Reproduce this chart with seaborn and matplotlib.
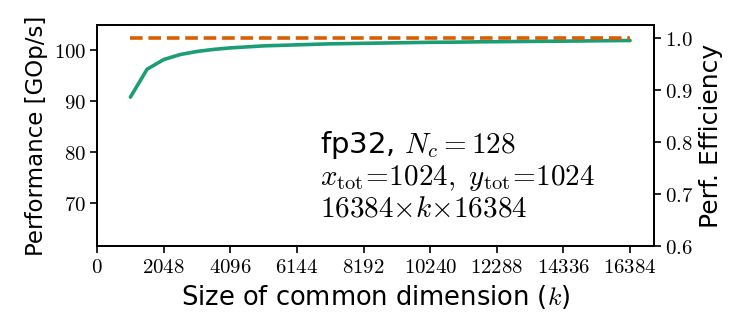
import matplotlib
matplotlib.use("Agg")
import matplotlib.pyplot as plt
import seaborn as sns
import pandas as pd
from matplotlib.ticker import FixedLocator, FixedFormatter

# Data
k_sizes = [1024, 1536, 2048, 2560, 3072, 3584, 4096, 4608, 5120, 5632, 6144,
           6656, 7168, 7680, 8192, 8704, 9216, 9728, 10240, 10752, 11264,
           11776, 12288, 12800, 13312, 13824, 14336, 14848, 15360, 15872, 16384]
performance = [90.8, 96.3, 98.2, 99.2, 99.8, 100.2, 100.5, 100.7, 100.9, 101.0, 101.1,
               101.2, 101.3, 101.35, 101.4, 101.45, 101.5, 101.55, 101.6, 101.62, 101.65,
               101.7, 101.72, 101.75, 101.78, 101.8, 101.83, 101.86, 101.9, 101.93, 101.95]
peak_perf = 102.4
x_ticks = [0, 2048, 4096, 6144, 8192, 10240, 12288, 14336, 16384]
y_ticks = [70, 80, 90, 100]
eff_ticks = [0.6, 0.7, 0.8, 0.9, 1.0]

sns.set_style("ticks")
plt.rcParams['font.family'] = ['DejaVu Sans']
plt.rcParams['mathtext.fontset'] = 'cm'
plt.rcParams['text.color'] = 'black'
plt.rcParams['axes.labelcolor'] = 'black'

df = pd.DataFrame({"k": k_sizes, "perf": performance})
df_peak = pd.DataFrame({"k": [k_sizes[0], k_sizes[-1]], "perf": [peak_perf, peak_perf]})

fig = plt.figure(figsize=(7.47, 3.34), dpi=100)
ax = fig.add_axes([0.130, 0.263, 0.7455, 0.662])

sns.lineplot(data=df, x="k", y="perf", ax=ax, color="#1b9e77", linewidth=2.6)
sns.lineplot(data=df_peak, x="k", y="perf", ax=ax, color="#d95f02", linewidth=2.6,
             linestyle=(0, (3.5, 1.6)))

ylo, yhi = 0.6 * peak_perf, 105.0
ax.set_xlim(0, 17120)
ax.set_ylim(ylo, yhi)

ax.xaxis.set_major_locator(FixedLocator(x_ticks))
ax.xaxis.set_major_formatter(FixedFormatter([f"${v}$" for v in x_ticks]))
ax.yaxis.set_major_locator(FixedLocator(y_ticks))
ax.yaxis.set_major_formatter(FixedFormatter([f"${v}$" for v in y_ticks]))
ax.tick_params(axis='both', labelsize=15, length=5, width=1.2, colors='black', pad=3)

ax.set_xlabel("Size of common dimension ($k$)", fontsize=18.5, labelpad=4)
ax.set_ylabel("Performance [GOp/s]", fontsize=16.5, labelpad=4)

for s in ax.spines.values():
    s.set_visible(True)
    s.set_linewidth(1.3)
    s.set_color('black')

ax2 = ax.twinx()
ax2.set_ylim(ylo / peak_perf, yhi / peak_perf)
ax2.yaxis.set_major_locator(FixedLocator(eff_ticks))
ax2.yaxis.set_major_formatter(FixedFormatter([f"${v:.1f}$" for v in eff_ticks]))
ax2.tick_params(axis='y', labelsize=15, length=5, width=1.2, colors='black', pad=3)
ax2.set_ylabel("Perf. Efficiency", fontsize=18, labelpad=4)
for s in ax2.spines.values():
    s.set_linewidth(1.3)
    s.set_color('black')

ax.text(0.40, 0.53,
        "fp32, $N_c = 128$\n$x_{\\rm tot}\\!=\\!1024,\\ y_{\\rm tot}\\!=\\!1024$\n$16384{\\times}k{\\times}16384$",
        transform=ax.transAxes, fontsize=21, va='top', ha='left', linespacing=1.08)

fig.savefig("out.png", dpi=100)
